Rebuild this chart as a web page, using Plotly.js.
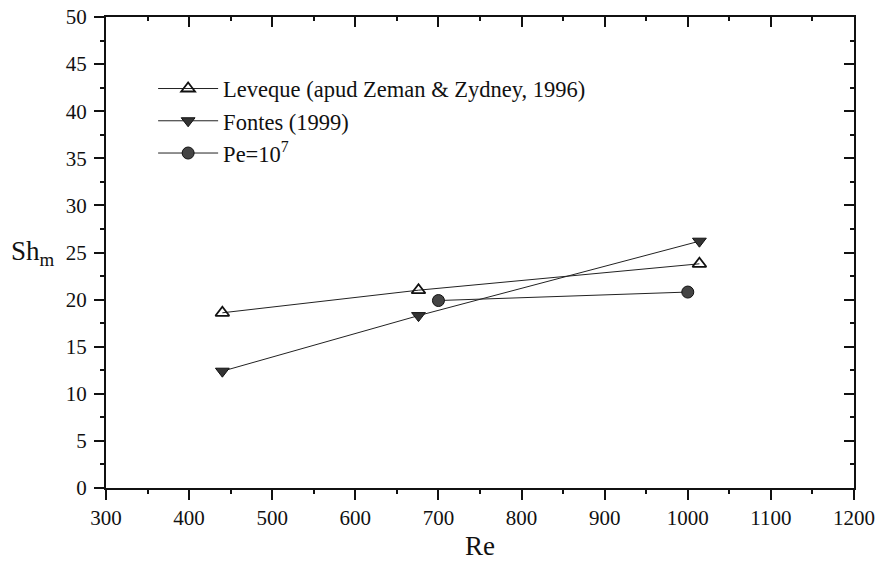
<!DOCTYPE html>
<html>
<head>
<meta charset="utf-8">
<script src="https://cdn.plot.ly/plotly-3.0.1.min.js"></script>
<style>
  html, body { margin: 0; padding: 0; background: #fff; }
  #chart { width: 880px; height: 561px; }
</style>
</head>
<body>
<div id="chart"></div>
<script>
// ---- data ----
const levequeRe = [440, 676, 1014];
const levequeSh = [18.6, 21.0, 23.8];
const fontesRe  = [440, 676, 1014];
const fontesSh  = [12.4, 18.3, 26.2];
const peRe      = [700, 1000];
const peSh      = [19.9, 20.8];

const seriesNames = ['Leveque (apud Zeman &amp; Zydney, 1996)', 'Fontes (1999)', 'Pe=10<sup>7</sup>'];
const xTickVals = [300, 400, 500, 600, 700, 800, 900, 1000, 1100, 1200];
const yTickVals = [0, 5, 10, 15, 20, 25, 30, 35, 40, 45, 50];

const FONT = 'Liberation Serif';

const traces = [
  {
    x: levequeRe, y: levequeSh, name: seriesNames[0], mode: 'lines+markers',
    line: { color: '#222', width: 1 },
    marker: { symbol: 'triangle-up-open', size: 12, color: '#111', line: { width: 1.8, color: '#111' } }
  },
  {
    x: fontesRe, y: fontesSh, name: seriesNames[1], mode: 'lines+markers',
    line: { color: '#222', width: 1 },
    marker: { symbol: 'triangle-down', size: 12, color: '#333', line: { width: 1, color: '#111' } }
  },
  {
    x: peRe, y: peSh, name: seriesNames[2], mode: 'lines+markers',
    line: { color: '#222', width: 1 },
    marker: { symbol: 'circle', size: 12, color: '#444', line: { width: 1, color: '#111' } }
  },
  // empty trace to register the mirrored top/right axes
  { x: [], y: [], xaxis: 'x2', yaxis: 'y2', showlegend: false, hoverinfo: 'skip', mode: 'markers' }
];

const layout = {
  width: 880, height: 561,
  margin: { l: 106, r: 26, t: 17, b: 73 },
  paper_bgcolor: '#fff', plot_bgcolor: '#fff',
  font: { family: FONT, color: '#111', size: 21 },
  showlegend: true,
  legend: {
    x: 0.063, y: 0.893, xanchor: 'left', yanchor: 'top',
    bgcolor: 'rgba(0,0,0,0)', borderwidth: 0, itemwidth: 60,
    font: { family: FONT, size: 22.5, color: '#111' },
    tracegroupgap: 0
  },
  xaxis: {
    range: [300, 1200], tickvals: xTickVals, ticks: 'outside', ticklen: 10, tickwidth: 2,
    tickcolor: '#111', showline: true, linecolor: '#111', linewidth: 2,
    showgrid: false, zeroline: false, ticklabelstandoff: 0,
    tickfont: { family: FONT, size: 21, color: '#111' },
    minor: { dtick: 50, ticks: 'outside', ticklen: 4, tickwidth: 2, tickcolor: '#111', showgrid: false },
    title: { text: 'Re', font: { family: FONT, size: 27, color: '#111' }, standoff: 12 }
  },
  yaxis: {
    range: [0, 50], tickvals: yTickVals, ticks: 'outside', ticklen: 10, tickwidth: 2,
    tickcolor: '#111', showline: true, linecolor: '#111', linewidth: 2,
    showgrid: false, zeroline: false, ticklabelstandoff: 3,
    tickfont: { family: FONT, size: 21, color: '#111' },
    minor: { dtick: 2.5, ticks: 'outside', ticklen: 4, tickwidth: 2, tickcolor: '#111', showgrid: false }
  },
  xaxis2: {
    overlaying: 'x', side: 'top', anchor: 'y2', range: [300, 1200], tickvals: xTickVals,
    ticks: 'inside', ticklen: 10, tickwidth: 2, tickcolor: '#111',
    showline: true, linecolor: '#111', linewidth: 2, showticklabels: false,
    showgrid: false, zeroline: false,
    minor: { dtick: 50, ticks: 'inside', ticklen: 4, tickwidth: 2, tickcolor: '#111', showgrid: false }
  },
  yaxis2: {
    overlaying: 'y', side: 'right', anchor: 'x2', range: [0, 50], tickvals: yTickVals,
    ticks: 'inside', ticklen: 10, tickwidth: 2, tickcolor: '#111',
    showline: true, linecolor: '#111', linewidth: 2, showticklabels: false,
    showgrid: false, zeroline: false,
    minor: { dtick: 2.5, ticks: 'inside', ticklen: 4, tickwidth: 2, tickcolor: '#111', showgrid: false }
  },
  annotations: [
    {
      text: 'Sh<sub>m</sub>', xref: 'paper', yref: 'paper', x: -0.098, y: 0.50,
      xanchor: 'center', yanchor: 'middle', showarrow: false,
      font: { family: FONT, size: 27, color: '#111' }
    }
  ]
};

Plotly.newPlot('chart', traces, layout, { displayModeBar: false, staticPlot: true });
</script>
</body>
</html>
